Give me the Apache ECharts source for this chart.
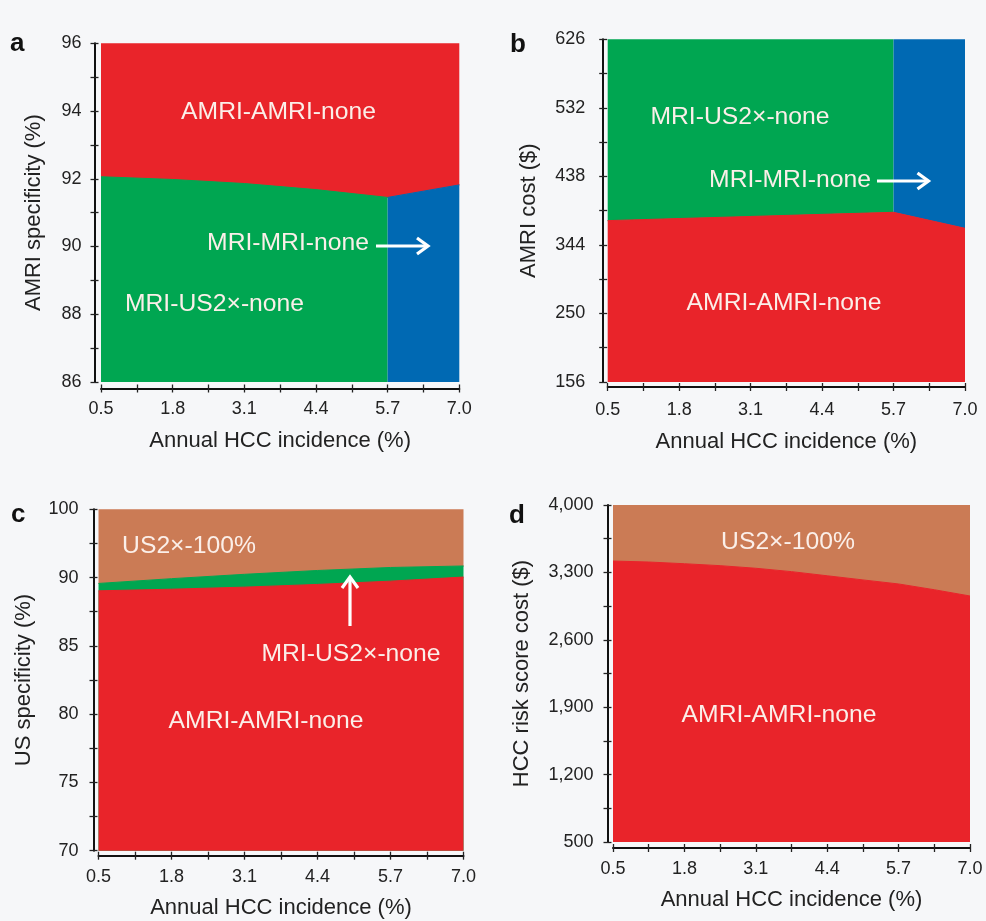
<!DOCTYPE html>
<html>
<head>
<meta charset="utf-8">
<script src="https://cdn.jsdelivr.net/npm/echarts@6/dist/echarts.min.js"></script>
<style>
html,body{margin:0;padding:0;background:#f6f7f9;}
#chart{width:986px;height:921px;}
</style>
</head>
<body>
<div id="chart"></div>
<script>
// ---------- data ----------
const incidence = [0.5, 1.8, 3.1, 4.4, 5.7, 7.0];
const incidenceFine = [0.5, 1.15, 1.8, 2.45, 3.1, 3.75, 4.4, 5.05, 5.7, 6.35, 7.0];
const xTickLabels = ['0.5', '1.8', '3.1', '4.4', '5.7', '7.0'];
const switchIncidence = 5.7;

// panel a: AMRI specificity threshold (AMRI-AMRI-none above)
const aBoundary = [92.06, 91.98, 91.86, 91.68, 91.45, 91.82];
// panel b: AMRI cost threshold (AMRI-AMRI-none below)
const bBoundary = [377.3, 380.2, 383.0, 385.9, 388.7, 366.8];
// panel c: US specificity thresholds
const cRedTop = [89.03, 89.15, 89.30, 89.50, 89.74, 90.04];
const cGreenTop = [89.57, 89.92, 90.24, 90.52, 90.74, 90.85];
const cTickValues = [70, 75, 80, 85, 90, 95];
const cTickLabels = ['70', '75', '80', '85', '90', '100'];
// panel d: HCC risk score cost threshold
const dBoundary = [3418, 3408, 3390, 3370, 3343, 3308, 3265, 3222, 3180, 3120, 3055];

// ---------- styles ----------
const RED = '#e9242a', GREEN = '#00a651', BLUE = '#0069b3', BROWN = '#cb7b55';
const FONT = '"Liberation Sans", Arial, Helvetica, sans-serif';
const TXT = '#222222';
const LBL = '#fbefe9';

const chart = echarts.init(document.getElementById('chart'), null, {renderer: 'canvas'});

const grids = [
  {left: 101, top: 43.3, width: 358.3, height: 338.7},
  {left: 607.7, top: 39.3, width: 357.3, height: 342.7},
  {left: 98.5, top: 509.3, width: 365, height: 341.4},
  {left: 613, top: 505, width: 357, height: 337}
];

function xAxesFor(g, offset, margin, nameGap) {
  const common = {
    type: 'value', gridIndex: g, min: 0.5, max: 7.0, interval: 1.3, position: 'bottom', offset: offset,
    splitLine: {show: false}, minorSplitLine: {show: false}
  };
  return [
    Object.assign({}, common, {
      axisLine: {show: true, onZero: false, lineStyle: {color: '#111', width: 2}},
      axisTick: {show: true, length: 4, lineStyle: {color: '#222', width: 1.3}},
      minorTick: {show: true, splitNumber: 2, length: 4, lineStyle: {color: '#222', width: 1.3}},
      axisLabel: {margin: margin, fontSize: 18, color: TXT, fontFamily: FONT,
        formatter: (v, i) => xTickLabels[i] !== undefined ? xTickLabels[i] : v.toFixed(1)},
      name: 'Annual HCC incidence (%)', nameLocation: 'middle', nameGap: nameGap,
      nameTextStyle: {fontSize: 22, color: TXT, fontFamily: FONT}
    }),
    Object.assign({}, common, {
      axisLine: {show: false, onZero: false},
      axisTick: {show: true, inside: true, length: 4, lineStyle: {color: '#222', width: 1.3}},
      minorTick: {show: true, splitNumber: 2, length: 4, lineStyle: {color: '#222', width: 1.3}},
      axisLabel: {show: false}
    })
  ];
}

function yAxesFor(g, min, max, interval, formatter, name, nameGap, offset, margin) {
  const common = {
    type: 'value', gridIndex: g, min: min, max: max, interval: interval, position: 'left', offset: offset,
    splitLine: {show: false}, minorSplitLine: {show: false}
  };
  return [
    Object.assign({}, common, {
      axisLine: {show: true, onZero: false, lineStyle: {color: '#111', width: 2}},
      axisTick: {show: true, length: 4, lineStyle: {color: '#222', width: 1.3}},
      minorTick: {show: true, splitNumber: 2, length: 4, lineStyle: {color: '#222', width: 1.3}},
      axisLabel: {margin: margin, fontSize: 18, color: TXT, fontFamily: FONT, formatter: formatter},
      name: name, nameLocation: 'middle', nameGap: nameGap, nameRotate: 90,
      nameTextStyle: {fontSize: 22, color: TXT, fontFamily: FONT}
    }),
    Object.assign({}, common, {
      axisLine: {show: false, onZero: false},
      axisTick: {show: true, inside: true, length: 4, lineStyle: {color: '#222', width: 1.3}},
      minorTick: {show: true, splitNumber: 2, length: 4, lineStyle: {color: '#222', width: 1.3}},
      axisLabel: {show: false}
    })
  ];
}

const xAxis = [].concat(
  xAxesFor(0, 6.5, 12, 41),
  xAxesFor(1, 5, 14, 44),
  xAxesFor(2, 5, 12, 41),
  xAxesFor(3, 6, 12, 41)
);
const yAxis = [].concat(
  yAxesFor(0, 86, 96, 2, v => String(v), 'AMRI specificity (%)', 50, 6.5, 13),
  yAxesFor(1, 156, 626, 94, v => String(Math.round(v)), 'AMRI cost ($)', 63, 4.5, 18),
  yAxesFor(2, 70, 95, 5, v => { const k = cTickValues.indexOf(Math.round(v)); return k >= 0 ? cTickLabels[k] : ''; },
    'US specificity (%)', 59, 5, 15),
  yAxesFor(3, 500, 4000, 700, v => Math.round(v).toLocaleString('en-US'), 'HCC risk score cost ($)', 75, 5.5, 14)
);

function area(xi, yi, xs, ys, color, origin, z, filterFn) {
  const data = [];
  xs.forEach((x, i) => { if (!filterFn || filterFn(x)) data.push([x, ys[i]]); });
  return {
    type: 'line', xAxisIndex: xi, yAxisIndex: yi, data: data, symbol: 'none', silent: true,
    lineStyle: {width: 1, color: color}, areaStyle: {color: color, opacity: 1, origin: origin},
    z: z, animation: false
  };
}

const series = [
  // panel a
  area(0, 0, incidence, aBoundary, RED, 'end', 2),
  area(0, 0, incidence, aBoundary, GREEN, 'start', 3, x => x <= switchIncidence),
  area(0, 0, incidence, aBoundary, BLUE, 'start', 3, x => x >= switchIncidence),
  // panel b
  area(2, 2, incidence, bBoundary, GREEN, 'end', 2, x => x <= switchIncidence),
  area(2, 2, incidence, bBoundary, BLUE, 'end', 2, x => x >= switchIncidence),
  area(2, 2, incidence, bBoundary, RED, 'start', 3),
  // panel c
  area(4, 4, incidence, cGreenTop, BROWN, 'end', 2),
  area(4, 4, incidence, cGreenTop, GREEN, 'start', 3),
  area(4, 4, incidence, cRedTop, RED, 'start', 4),
  // panel d
  area(6, 6, incidenceFine, dBoundary, BROWN, 'end', 2),
  area(6, 6, incidenceFine, dBoundary, RED, 'start', 3)
];

function label(text, cx, cy) {
  return {type: 'text', x: cx, y: cy, z: 100,
    style: {text: text, fill: LBL, font: '24.7px ' + FONT, align: 'center', verticalAlign: 'middle'}};
}
function letter(text, x, y) {
  return {type: 'text', x: x, y: y, z: 100,
    style: {text: text, fill: '#111', font: 'bold 26px ' + FONT, align: 'left', verticalAlign: 'alphabetic'}};
}
function hArrow(x1, x2, y) {
  return [
    {type: 'line', z: 100, shape: {x1: x1, y1: y, x2: x2 - 1, y2: y}, style: {stroke: '#fff', lineWidth: 3.2}},
    {type: 'polyline', z: 100, shape: {points: [[x2 - 11, y - 8], [x2, y], [x2 - 11, y + 8]]},
      style: {stroke: '#fff', lineWidth: 3.2, fill: null, lineJoin: 'miter'}}
  ];
}
function vArrow(x, yBottom, yTop) {
  return [
    {type: 'line', z: 100, shape: {x1: x, y1: yBottom, x2: x, y2: yTop + 1}, style: {stroke: '#fff', lineWidth: 3.2}},
    {type: 'polyline', z: 100, shape: {points: [[x - 8, yTop + 11], [x, yTop], [x + 8, yTop + 11]]},
      style: {stroke: '#fff', lineWidth: 3.2, fill: null, lineJoin: 'miter'}}
  ];
}

const graphic = [].concat(
  [letter('a', 10, 31), letter('b', 510, 32), letter('c', 11, 502), letter('d', 509, 503)],
  [label('AMRI-AMRI-none', 278.5, 112), label('MRI-MRI-none', 288, 243), label('MRI-US2×-none', 214.5, 304)],
  hArrow(376, 428, 246),
  [label('MRI-US2×-none', 740, 117.5), label('MRI-MRI-none', 790, 180), label('AMRI-AMRI-none', 784, 303)],
  hArrow(877, 928.5, 181),
  [label('US2×-100%', 189, 546), label('MRI-US2×-none', 351, 654), label('AMRI-AMRI-none', 266, 721)],
  vArrow(350, 626, 577),
  [label('US2×-100%', 788, 542), label('AMRI-AMRI-none', 779, 715)]
);

chart.setOption({
  backgroundColor: '#f6f7f9',
  animation: false,
  grid: grids.map(g => Object.assign({containLabel: false}, g)),
  xAxis: xAxis,
  yAxis: yAxis,
  series: series,
  graphic: graphic
});
</script>
</body>
</html>
